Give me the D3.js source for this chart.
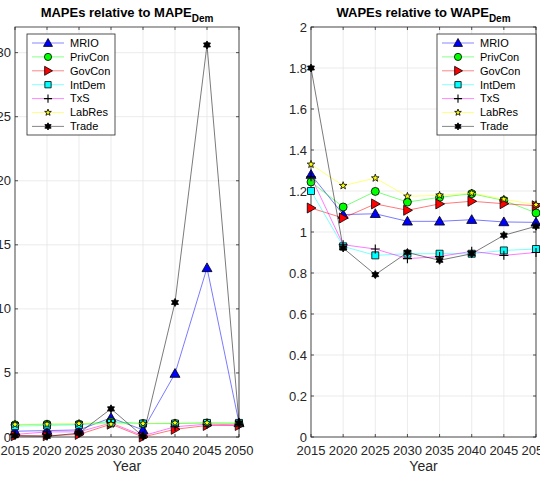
<!DOCTYPE html>
<html>
<head>
<meta charset="utf-8">
<script src="https://cdn.jsdelivr.net/npm/d3@7"></script>
<style>
  body { margin: 0; background: #fff; }
  svg { display: block; font-family: "Liberation Sans", Arial, sans-serif; }
</style>
</head>
<body>
<script>
var years = [2015, 2020, 2025, 2030, 2035, 2040, 2045, 2050];
var seriesNames = ['MRIO', 'PrivCon', 'GovCon', 'IntDem', 'TxS', 'LabRes', 'Trade'];

// MAPEs relative to MAPE_Dem
var mapeMRIO    = [0.45, 0.5, 0.55, 1.5, 0.55, 4.95, 13.2, 1.1];
var mapePrivCon = [0.95, 1.0, 1.0, 1.2, 1.05, 1.05, 1.1, 1.05];
var mapeGovCon  = [0.1, 0.1, 0.2, 1.0, 0.0, 0.6, 0.9, 0.9];
var mapeIntDem  = [0.85, 0.9, 0.95, 1.1, 1.05, 1.05, 1.1, 1.1];
var mapeTxS     = [0.2, 0.4, 0.4, 1.1, 0.1, 0.8, 1.0, 0.95];
var mapeLabRes  = [0.98, 1.0, 1.05, 1.0, 1.05, 1.1, 1.1, 1.1];
var mapeTrade   = [0.1, 0.05, 0.3, 2.2, 0.05, 10.5, 30.6, 1.1];

// WAPEs relative to WAPE_Dem
var wapeMRIO    = [1.28, 1.085, 1.089, 1.052, 1.052, 1.06, 1.049, 1.047];
var wapePrivCon = [1.244, 1.122, 1.198, 1.146, 1.169, 1.187, 1.154, 1.093];
var wapeGovCon  = [1.117, 1.068, 1.137, 1.106, 1.137, 1.15, 1.138, 1.128];
var wapeIntDem  = [1.20, 0.93, 0.886, 0.894, 0.894, 0.894, 0.91, 0.917];
var wapeTxS     = [1.27, 0.938, 0.917, 0.87, 0.88, 0.906, 0.886, 0.90];
var wapeLabRes  = [1.33, 1.226, 1.263, 1.174, 1.179, 1.19, 1.16, 1.133];
var wapeTrade   = [1.80, 0.922, 0.792, 0.90, 0.862, 0.894, 0.984, 1.028];

var mapeTicks = [0, 5, 10, 15, 20, 25, 30];
var wapeTicks = [0, 0.2, 0.4, 0.6, 0.8, 1, 1.2, 1.4, 1.6, 1.8, 2];

var styles = {
  MRIO:    { line: '#0000ff', fill: '#0000ff', marker: 'tri',    r: 5 },
  PrivCon: { line: '#00ff00', fill: '#00ff00', marker: 'circle', r: 5 },
  GovCon:  { line: '#ff0000', fill: '#ff0000', marker: 'right',  r: 5 },
  IntDem:  { line: '#00ffff', fill: '#00ffff', marker: 'square', r: 5 },
  TxS:     { line: '#ff00ff', fill: 'none',    marker: 'plus',   r: 4.5 },
  LabRes:  { line: '#ffff00', fill: '#ffff00', marker: 'star',   r: 4 },
  Trade:   { line: '#000000', fill: '#000000', marker: 'hex',    r: 4 }
};

// marker outlines, r is the half size
function markerPath(type, r) {
  var p = d3.path();
  if (type == 'tri') {
    p.moveTo(0, -r); p.lineTo(r, r * 0.75); p.lineTo(-r, r * 0.75); p.closePath();
  } else if (type == 'right') {
    p.moveTo(r, 0); p.lineTo(-r * 0.75, -r); p.lineTo(-r * 0.75, r); p.closePath();
  } else if (type == 'circle') {
    p.arc(0, 0, r * 0.8, 0, 2 * Math.PI);
  } else if (type == 'square') {
    p.rect(-r * 0.7, -r * 0.7, r * 1.4, r * 1.4);
  } else if (type == 'plus') {
    p.moveTo(-r, 0); p.lineTo(r, 0); p.moveTo(0, -r); p.lineTo(0, r);
  } else if (type == 'star') {
    for (let i = 0; i < 10; i++) {
      let a = -Math.PI / 2 + i * Math.PI / 5;
      let rr = i % 2 ? r * 0.4 : r;
      if (i == 0) p.moveTo(rr * Math.cos(a), rr * Math.sin(a));
      else p.lineTo(rr * Math.cos(a), rr * Math.sin(a));
    }
    p.closePath();
  } else if (type == 'hex') {
    for (let i = 0; i < 12; i++) {
      let a = -Math.PI / 2 + i * Math.PI / 6;
      let rr = i % 2 ? r * 0.6 : r;
      if (i == 0) p.moveTo(rr * Math.cos(a), rr * Math.sin(a));
      else p.lineTo(rr * Math.cos(a), rr * Math.sin(a));
    }
    p.closePath();
  }
  return p.toString();
}

var W = 540, H = 478;
var svg = d3.select('body').append('svg')
  .attr('width', W)
  .attr('height', H);

function drawPanel(opt) {
  var x = d3.scaleLinear().domain([2015, 2050]).range([opt.x0, opt.x1]);
  var y = d3.scaleLinear().domain(opt.ydomain).range([437, 27]);
  var g = svg.append('g');

  // grid
  g.selectAll('.gx').data(years).enter().append('line')
    .attr('x1', d => x(d)).attr('x2', d => x(d))
    .attr('y1', y.range()[0]).attr('y2', y.range()[1])
    .attr('stroke', '#e6e6e6').attr('stroke-width', 0.8);
  g.selectAll('.gy').data(opt.ticks).enter().append('line')
    .attr('x1', opt.x0).attr('x2', opt.x1)
    .attr('y1', d => y(d)).attr('y2', d => y(d))
    .attr('stroke', '#e6e6e6').attr('stroke-width', 0.8);

  // box with inner ticks on all sides
  var ax = g.append('g').attr('stroke', '#262626').attr('stroke-width', 0.8);
  ax.append('rect')
    .attr('x', opt.x0).attr('y', 27)
    .attr('width', opt.x1 - opt.x0).attr('height', 410)
    .attr('fill', 'none');
  years.forEach(d => {
    ax.append('line').attr('x1', x(d)).attr('x2', x(d)).attr('y1', 437).attr('y2', 434);
    ax.append('line').attr('x1', x(d)).attr('x2', x(d)).attr('y1', 27).attr('y2', 30);
  });
  opt.ticks.forEach(d => {
    ax.append('line').attr('x1', opt.x0).attr('x2', opt.x0 + 3).attr('y1', y(d)).attr('y2', y(d));
    ax.append('line').attr('x1', opt.x1).attr('x2', opt.x1 - 3).attr('y1', y(d)).attr('y2', y(d));
  });

  // tick labels
  g.selectAll('.xl').data(years).enter().append('text')
    .attr('x', d => x(d)).attr('y', 455)
    .attr('text-anchor', 'middle')
    .attr('font-size', 13).attr('fill', '#262626')
    .text(d => d);
  g.selectAll('.yl').data(opt.ticks).enter().append('text')
    .attr('x', opt.x0 - 4).attr('y', d => y(d))
    .attr('dy', '0.35em')
    .attr('text-anchor', 'end')
    .attr('font-size', 13).attr('fill', '#262626')
    .text(d => d3.format('~g')(d));

  g.append('text')
    .attr('x', (opt.x0 + opt.x1) / 2).attr('y', 471)
    .attr('text-anchor', 'middle')
    .attr('font-size', 14).attr('fill', '#262626')
    .text('Year');

  // title with subscript
  var t = g.append('text')
    .attr('x', (opt.x0 + opt.x1) / 2).attr('y', 17)
    .attr('text-anchor', 'middle')
    .attr('font-size', 13).attr('font-weight', 'bold').attr('fill', '#000');
  t.append('tspan').text(opt.title);
  t.append('tspan').attr('dy', 5).attr('font-size', 10).text('Dem');

  // series
  var line = d3.line().x((d, i) => x(years[i])).y(d => y(d));
  opt.data.forEach((vals, k) => {
    var st = styles[seriesNames[k]];
    g.append('path')
      .attr('d', line(vals))
      .attr('fill', 'none')
      .attr('stroke', st.line)
      .attr('stroke-opacity', 0.75)
      .attr('stroke-width', 0.7);
    g.selectAll('.m' + k).data(vals).enter().append('path')
      .attr('transform', (d, i) => 'translate(' + x(years[i]) + ',' + y(d) + ')')
      .attr('d', markerPath(st.marker, st.r))
      .attr('fill', st.fill)
      .attr('stroke', '#000')
      .attr('stroke-width', st.marker == 'plus' ? 1.1 : 0.8);
  });

  // legend
  var lg = g.append('g');
  lg.append('rect')
    .attr('x', opt.lx).attr('y', 34)
    .attr('width', opt.lw).attr('height', 101)
    .attr('fill', '#fff').attr('stroke', '#262626').attr('stroke-width', 0.8);
  seriesNames.forEach((name, k) => {
    var st = styles[name];
    var ly = 43 + k * 13.9;
    lg.append('line')
      .attr('x1', opt.lx + 5).attr('x2', opt.lx + 37)
      .attr('y1', ly).attr('y2', ly)
      .attr('stroke', st.line).attr('stroke-opacity', 0.6).attr('stroke-width', 0.8);
    lg.append('path')
      .attr('transform', 'translate(' + (opt.lx + 21) + ',' + ly + ')')
      .attr('d', markerPath(st.marker, st.marker == 'star' ? 3.5 : st.r * 0.9))
      .attr('fill', st.fill)
      .attr('stroke', '#000')
      .attr('stroke-width', st.marker == 'plus' ? 1.1 : 0.8);
    lg.append('text')
      .attr('x', opt.lx + 43).attr('y', ly)
      .attr('dy', '0.35em')
      .attr('font-size', 11).attr('fill', '#000')
      .text(name);
  });
}

drawPanel({
  x0: 15, x1: 239,
  ydomain: [0, 32],
  ticks: mapeTicks,
  title: 'MAPEs relative to MAPE',
  data: [mapeMRIO, mapePrivCon, mapeGovCon, mapeIntDem, mapeTxS, mapeLabRes, mapeTrade],
  lx: 27, lw: 88
});

drawPanel({
  x0: 311, x1: 536,
  ydomain: [0, 2],
  ticks: wapeTicks,
  title: 'WAPEs relative to WAPE',
  data: [wapeMRIO, wapePrivCon, wapeGovCon, wapeIntDem, wapeTxS, wapeLabRes, wapeTrade],
  lx: 437, lw: 99
});
</script>
</body>
</html>
